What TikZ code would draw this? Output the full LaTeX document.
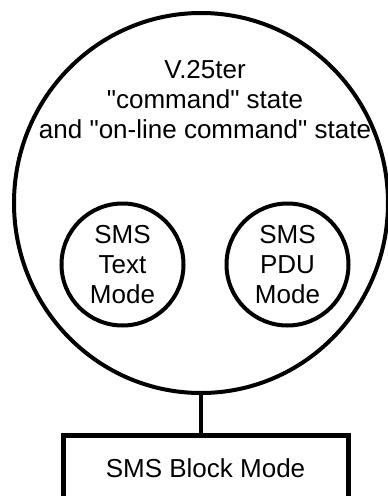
\documentclass[tikz,border=0pt]{standalone}
\usepackage{fontspec}
\setmainfont{Liberation Sans}
\usetikzlibrary{shapes.geometric}
\begin{document}
\begin{tikzpicture}[x=1pt,y=-1pt,
  label text/.style={font=\fontsize{26}{30}\selectfont, align=center, inner sep=0pt},
  state ring/.style={draw, ellipse, line width=4pt, inner sep=0pt},
  mode ring/.style={draw, circle, line width=4pt, minimum size=122pt, inner sep=0pt,
                    font=\fontsize{26}{30}\selectfont, align=center},
  block box/.style={draw, rectangle, line width=5pt, inner sep=0pt,
                    font=\fontsize{26}{30}\selectfont},
  link/.style={line width=3.5pt}]
  \useasboundingbox (0,0) rectangle (388,496);

  % V.25ter command states (base anchor sits on the last line)
  \node[state ring, minimum width=374pt, minimum height=380pt] (outer) at (201,203) {};
  \node[label text, anchor=base] (title) at (205,138)
    {V.25ter\\\textquotedbl command\textquotedbl{} state\\and \textquotedbl on-line command\textquotedbl{} state};

  % the two SMS modes inside
  \node[mode ring] (text) at (122.5,264.5) {SMS\\Text\\Mode};
  \node[mode ring] (pdu) at (287.5,264.5) {SMS\\PDU\\Mode};

  % block mode below
  \node[block box, minimum width=285pt, minimum height=67pt] (block) at (205.5,468.5) {SMS Block Mode};

  \draw[link] (outer.south) -- (outer.south |- block.north);
\end{tikzpicture}
\end{document}
